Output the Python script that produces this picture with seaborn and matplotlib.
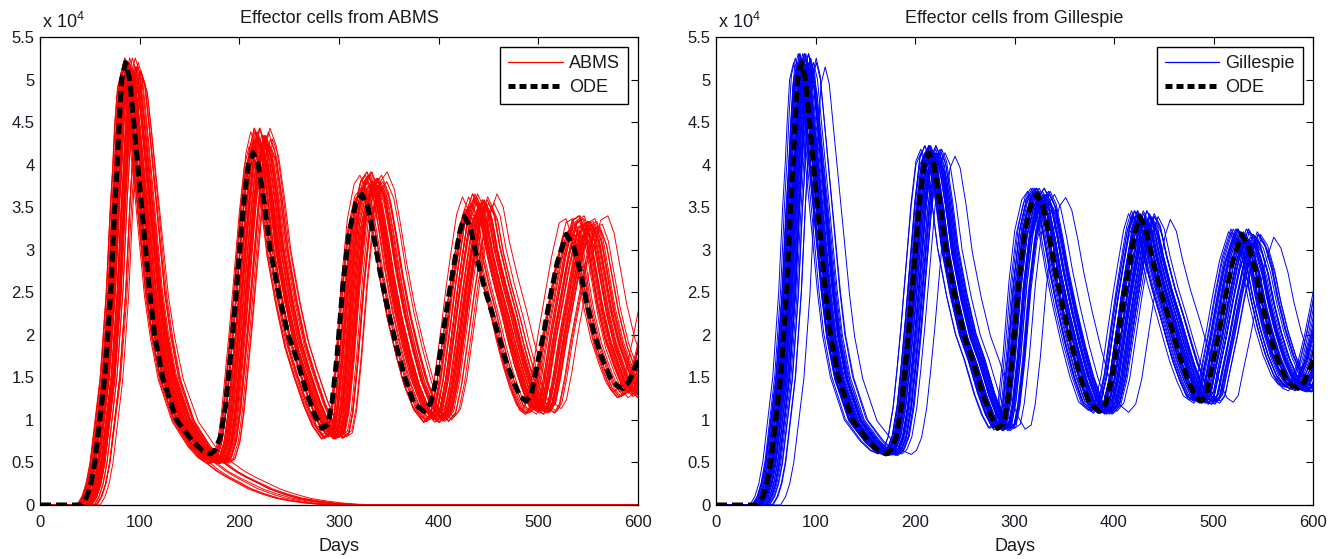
import numpy as np
import pandas as pd
import matplotlib
matplotlib.use("Agg")
import matplotlib.pyplot as plt
import seaborn as sns
from matplotlib.lines import Line2D
from matplotlib.ticker import FormatStrFormatter

# ODE solution (black dashed), cells in units of 1e4
ode_day = [0, 42, 47, 51, 55, 60, 65, 68, 71, 73, 75, 77.5, 79.5, 82, 86, 90, 94, 98, 102, 106,
           110, 115, 123, 137, 153, 163, 171, 176, 181, 186, 190, 194, 199, 204, 209, 214, 219, 225, 231, 240,
           249, 258, 268, 276, 283, 289, 293, 298, 304, 310, 317, 323, 329, 335, 341, 349, 358, 366, 375, 385,
           392, 398, 405, 410, 415, 421, 426, 432, 438, 446, 455, 461, 468, 475, 482, 488, 493, 498, 505, 512,
           519, 528, 535, 542, 548, 555, 563, 572, 579, 585, 591, 599, 606, 613, 620, 628]
ode_cells = [0, 0, 0.1, 0.25, 0.5, 1.0, 1.5, 2.0, 2.5, 3.0, 3.5, 4.0, 4.5, 5.0, 5.2, 5.0, 4.5, 4.0, 3.5, 3.0,
             2.5, 2.0, 1.5, 1.0, 0.75, 0.64, 0.6, 0.65, 0.8, 1.15, 1.6, 2.1, 2.8, 3.5, 4.0, 4.14, 4.0, 3.55, 3.0, 2.45,
             2.0, 1.7, 1.3, 1.05, 0.9, 0.95, 1.2, 1.75, 2.6, 3.2, 3.55, 3.65, 3.5, 3.15, 2.75, 2.3, 1.85, 1.5, 1.2, 1.1,
             1.2, 1.5, 2.06, 2.45, 2.8, 3.2, 3.39, 3.25, 2.92, 2.55, 2.2, 1.95, 1.67, 1.45, 1.27, 1.22, 1.3, 1.6, 2.0, 2.45,
             2.85, 3.18, 3.05, 2.76, 2.4, 2.06, 1.75, 1.5, 1.4, 1.37, 1.45, 1.67, 2.0, 2.4, 2.8, 3.1]

# centre of the ABMS bundle (lags the ODE a little more each cycle)
abms_day = [0, 45, 50, 54, 58, 63, 68, 71, 74, 76, 78, 80.5, 82.5, 85, 89, 93, 97, 101, 105, 109,
            113, 119, 127, 141, 157, 167, 176, 182, 187, 191, 195, 199, 204, 209, 214, 219, 225, 231, 237, 246,
            255, 264, 274, 283, 292, 298, 302, 307, 313, 319, 326, 332, 339, 345, 351, 359, 368, 376, 386, 396,
            403, 409, 416, 421, 426, 432, 438, 444, 450, 458, 467, 473, 480, 487, 494, 500, 505, 510, 516, 523,
            530, 538, 545, 551, 557, 563, 571, 580, 587, 594, 600, 607, 614, 621, 628, 636]
abms_cells = [0, 0, 0.1, 0.25, 0.5, 1.0, 1.5, 2.0, 2.5, 3.0, 3.5, 4.0, 4.5, 4.9, 5.1, 4.95, 4.5, 4.0, 3.5, 3.0,
              2.5, 2.0, 1.5, 1.0, 0.7, 0.57, 0.5, 0.55, 0.75, 1.1, 1.6, 2.1, 2.8, 3.5, 4.05, 4.3, 4.1, 3.6, 3.0, 2.4,
              1.9, 1.55, 1.2, 0.95, 0.8, 0.85, 1.1, 1.7, 2.6, 3.3, 3.7, 3.8, 3.6, 3.2, 2.75, 2.25, 1.8, 1.45, 1.15, 1.0,
              1.1, 1.45, 2.05, 2.5, 2.9, 3.35, 3.55, 3.4, 3.0, 2.6, 2.2, 1.9, 1.6, 1.35, 1.15, 1.1, 1.2, 1.5, 1.95, 2.4,
              2.85, 3.25, 3.3, 3.1, 2.7, 2.3, 1.9, 1.6, 1.4, 1.3, 1.35, 1.55, 1.9, 2.3, 2.7, 3.0]

# ABMS runs that die out after the first peak
extinct_day = [0, 45, 50, 54, 58, 63, 68, 71, 74, 76, 78, 80.5, 82.5, 85, 89, 93, 97, 101, 105, 109,
               113, 119, 127, 141, 157, 167, 176, 185, 195, 205, 218, 232, 246, 260, 275, 290, 305, 320, 640]
extinct_cells = [0, 0, 0.1, 0.25, 0.5, 1.0, 1.5, 2.0, 2.5, 3.0, 3.5, 4.0, 4.5, 4.9, 5.1, 4.95, 4.5, 4.0, 3.5, 3.0,
                 2.5, 2.0, 1.5, 1.0, 0.7, 0.57, 0.48, 0.4, 0.33, 0.27, 0.19, 0.13, 0.08, 0.05, 0.025, 0.01, 0.003, 0, 0]

# per run: start offset (days), time stretch, height factor
abms_shift = [-9, -7, -6, -5, -4, -3, -3, -2, -1, -1, 0, 0, 1, 1, 2, 2, 3, 3, 4, 4,
              5, 6, 6, 7, 8, 9, -8, -4, -2, 0, 2, 5, 10, 12, 16, 3,
              -6, -1, 4, 7, 11, -3]
abms_stretch = [1.02, 0.99, 1.01, 0.985, 1.0, 1.015, 0.99, 1.005, 0.98, 1.02, 0.995, 1.01, 0.985, 1.0, 1.015, 0.99,
                1.005, 0.975, 1.01, 0.995, 0.985, 1.0, 1.02, 0.99, 0.98, 1.005, 1.03, 1.0, 0.985, 1.025,
                0.995, 1.01, 0.99, 1.0, 0.985, 1.04,
                1.035, 0.97, 1.025, 1.0, 1.015, 0.98]
abms_gain = [1.0, 0.98, 1.02, 0.97, 1.03, 1.0, 0.99, 1.02, 0.98, 1.01, 1.02, 0.97, 1.0, 1.03, 0.99, 1.01, 0.97, 1.02,
             1.0, 0.98, 1.03, 1.01, 0.99, 1.0, 0.97, 1.02, 1.0, 1.03, 0.98, 1.01, 1.0, 0.99, 1.01, 1.0, 0.98, 1.03,
             0.99, 1.02, 0.98, 1.01, 1.0, 0.97]

extinct_shift = [-7, -5, -3, -2, 0, 1, 3, 5, 8, 12]
extinct_stretch = [1.0, 1.05, 0.97, 1.08, 1.0, 1.06, 0.96, 1.03, 1.07, 1.0]
extinct_gain = [1.0, 0.98, 1.01, 0.99, 1.02, 0.97, 1.0, 1.01, 0.98, 1.0]

gill_shift = [-8, -6, -5, -4, -3, -2, -2, -1, 0, 0, 1, 1, 2, 2, 3, 3, 4, 4, 5, 5,
              6, 6, 7, 8, 9, 10, 11, 12, -7, -3, 0, 2, 4, 7, 9, 14, 16, 22, 1, 5,
              -5, 3, 8, -1, 6, 10]
gill_stretch = [1.0, 1.02, 0.985, 1.01, 0.995, 1.025, 0.99, 1.0, 1.015, 0.98, 1.005, 1.02, 0.99, 1.01, 0.975, 1.0,
                1.015, 0.985, 1.005, 0.99, 1.02, 0.98, 1.0, 1.01, 0.99, 0.985, 1.005, 1.0, 1.03, 1.015,
                0.995, 0.98, 1.025, 1.0, 0.99, 1.01, 0.985, 1.02, 1.035, 0.975,
                1.01, 0.99, 1.015, 1.03, 0.98, 1.0]
gill_gain = [1.0, 0.98, 1.01, 0.99, 1.02, 0.97, 1.0, 1.01, 0.98, 1.02, 0.99, 1.0, 1.02, 0.97, 1.01, 0.99, 1.0, 1.02,
             0.98, 1.01, 1.0, 0.99, 1.02, 0.98, 1.0, 1.01, 0.97, 1.0, 0.99, 1.02, 1.01, 0.98, 1.0, 1.02, 0.99, 1.0,
             1.01, 0.99, 0.98, 1.02, 1.0, 0.98, 1.01, 0.99, 1.02, 0.97]

x_ticks = [0, 100, 200, 300, 400, 500, 600]
y_ticks = [0, 0.5, 1, 1.5, 2, 2.5, 3, 3.5, 4, 4.5, 5, 5.5]

ode_style = (0, (2.2, 1.0))


def runs_frame(base_day, base_cells, shifts, stretches, gains, start=0):
    # each run is the read profile moved along the time axis
    parts = []
    for i, (s, k, g) in enumerate(zip(shifts, stretches, gains)):
        parts.append(pd.DataFrame({
            "day": s + k * np.array(base_day, dtype=float),
            "cells": g * np.array(base_cells, dtype=float),
            "run": start + i,
        }))
    return pd.concat(parts, ignore_index=True)


abms_df = pd.concat([
    runs_frame(abms_day, abms_cells, abms_shift, abms_stretch, abms_gain),
    runs_frame(extinct_day, extinct_cells, extinct_shift, extinct_stretch, extinct_gain, start=100),
])
gill_df = runs_frame(ode_day, ode_cells, gill_shift, gill_stretch, gill_gain)
ode_df = pd.DataFrame({"day": ode_day, "cells": ode_cells})

sns.set_style("white")
plt.rcParams["font.family"] = ["Liberation Sans", "DejaVu Sans"]
plt.rcParams["mathtext.default"] = "regular"
plt.rcParams["text.color"] = "#1a1a22"

fig = plt.figure(figsize=(13.39, 5.59), dpi=100)
ax1 = fig.add_axes([40 / 1339, 54 / 559, 598 / 1339, 468 / 559])
ax2 = fig.add_axes([716 / 1339, 54 / 559, 597 / 1339, 468 / 559])

panels = [
    (ax1, abms_df, "red", "ABMS", "Effector cells from ABMS"),
    (ax2, gill_df, "blue", "Gillespie", "Effector cells from Gillespie"),
]

for ax, df, col, name, title in panels:
    sns.lineplot(data=df, x="day", y="cells", units="run", estimator=None, sort=False,
                 color=col, linewidth=0.7, legend=False, ax=ax)
    sns.lineplot(data=ode_df, x="day", y="cells", sort=False, color="black",
                 linewidth=3.6, linestyle=ode_style, legend=False, ax=ax)

    ax.set_xlim(0, 600)
    ax.set_ylim(0, 5.5)
    ax.set_xticks(x_ticks)
    ax.set_yticks(y_ticks)
    ax.yaxis.set_major_formatter(FormatStrFormatter("%g"))
    ax.tick_params(direction="in", length=5, width=0.8, top=True, right=True,
                   labelsize=12, colors="black", labelcolor="#1a1a22")
    ax.tick_params(axis="x", pad=7)
    ax.tick_params(axis="y", pad=4)
    for sp in ax.spines.values():
        sp.set_color("black")
        sp.set_linewidth(0.9)
    ax.set_xlabel("Days", fontsize=13, labelpad=6, color="#1a1a22")
    ax.set_ylabel("")
    ax.set_title(title, fontsize=13, pad=10)
    ax.text(0.004, 1.019, "x 10$^{4}$", transform=ax.transAxes, ha="left", va="baseline", fontsize=13)

    handles = [Line2D([], [], color=col, linewidth=0.9),
               Line2D([], [], color="black", linewidth=3.6, linestyle=(0, (1.4, 0.8)))]
    leg = ax.legend(handles, [name, "ODE"], loc="upper right", fontsize=13, frameon=True,
                    fancybox=False, framealpha=1, edgecolor="black", handlelength=3.0,
                    borderaxespad=0.55, labelspacing=0.4, handletextpad=0.35, borderpad=0.45)
    leg.get_frame().set_linewidth(1.0)

fig.savefig("out.png", dpi=100, facecolor="white")
